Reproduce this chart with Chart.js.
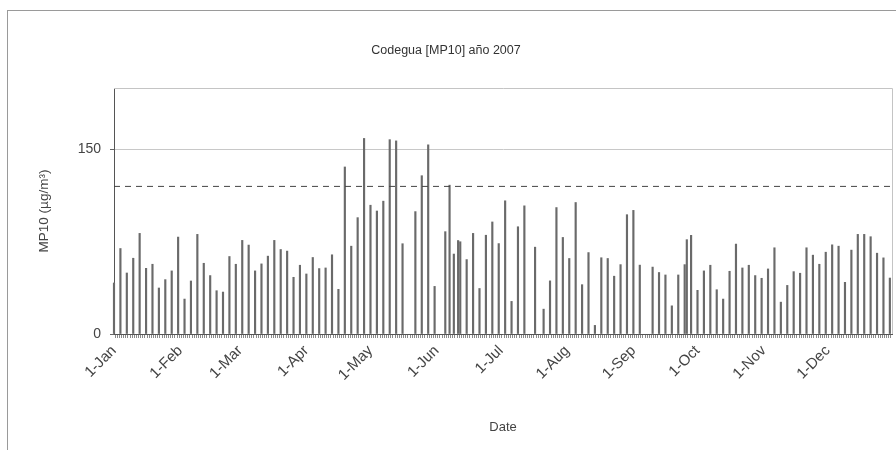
<!DOCTYPE html>
<html>
<head>
<meta charset="utf-8">
<script src="https://cdn.jsdelivr.net/npm/chart.js@4.4.1/dist/chart.umd.min.js"></script>
<style>
  html, body { margin: 0; padding: 0; background: #fff; overflow: hidden; }
  #wrap { position: relative; width: 896px; height: 450px; }
  #frame { position: absolute; left: 7px; top: 10px; width: 900px; height: 460px; border-left: 1px solid #9a9a9a; border-top: 1px solid #9a9a9a; pointer-events: none; }
  canvas { position: absolute; left: 0; top: 0; }
</style>
</head>
<body>
<div id="wrap">
  <canvas id="c" width="896" height="450"></canvas>
  <div id="frame"></div>
</div>
<script>
// ---- data (day of year 2007, 0 = 1-Jan) ----
const monthNames = ['Jan','Feb','Mar','Apr','May','Jun','Jul','Aug','Sep','Oct','Nov','Dec'];
const monthDays  = [31,28,31,30,31,30,31,31,30,31,30,31];
const sampleDays = [0,3,6,9,12,15,18,21,24,27,30,33,36,39,42,45,48,51,54,57,60,63,66,69,72,75,78,81,84,87,90,93,96,99,102,105,108,111,114,117,120,123,126,129,132,135,141,144,147,150,155,157,159,161,162,165,168,171,174,177,180,183,186,189,192,197,201,204,207,210,213,216,219,222,225,228,231,234,237,240,243,246,252,255,258,261,264,267,268,270,273,276,279,282,285,288,291,294,297,300,303,306,309,312,315,318,321,324,327,330,333,336,339,342,345,348,351,354,357,360,363];
const pm10Values = [41.5,69.5,49.6,61.6,81.8,53.4,56.7,37.4,44.2,51.3,78.8,28.4,43.1,81.0,57.5,47.5,35.2,34.1,63.0,56.7,76.1,72.3,51.3,57.0,63.3,76.1,68.7,67.4,46.1,55.9,48.8,62.2,53.2,53.7,64.4,36.3,135.8,71.4,94.6,159,104.7,100,108,158,157,73.4,99.5,128.7,153.8,38.7,83.2,121,65,76,75,60.5,81.8,37,80.3,91.1,73.5,108.3,26.5,87.2,104.2,70.6,20.2,43.2,102.8,78.5,61.4,106.9,40.1,66.2,7,62,61.4,47,56.4,97,100.5,56,54.4,50,48,22.9,48,56.4,76.7,80.2,35.5,51.3,55.9,36,28.4,51,73.1,53.7,55.9,47.5,45.3,52.9,70.1,25.9,39.5,50.7,49.4,70.1,64.1,56.7,66.5,72.5,71.4,42,68.2,81,81,79.1,65.7,61.9,45.5];
const limitValue = 120;
const yTickValues = [0, 150];

// ---- build daily category table ----
const labels = [];
monthNames.forEach((m, i) => { for (let d = 1; d <= monthDays[i]; d++) labels.push(d + '-' + m); });
const dailyValues = labels.map(() => null);
sampleDays.forEach((d, i) => { dailyValues[d] = pm10Values[i]; });
const limitLine = labels.map(() => null);
limitLine[0] = limitValue;
limitLine[labels.length - 1] = limitValue;

const frameBox = {
  id: 'frameBox',
  afterDraw(chart) {
    const {ctx, chartArea: a} = chart;
    ctx.save();
    ctx.strokeStyle = '#c4c4c4';
    ctx.lineWidth = 1;
    ctx.beginPath();
    ctx.moveTo(a.left, a.top + 0.5); ctx.lineTo(a.right + 0.5, a.top + 0.5); ctx.lineTo(a.right + 0.5, a.bottom);
    ctx.stroke();
    ctx.restore();
  }
};

const FONT = "'Liberation Sans', Arial, sans-serif";
new Chart(document.getElementById('c'), {
  data: {
    labels,
    datasets: [
      { type: 'bar', data: dailyValues, backgroundColor: '#6a6a6a', barThickness: 1.5, clip: 3, order: 2 },
      { type: 'line', data: limitLine, spanGaps: true, borderColor: '#444', borderWidth: 1, borderDash: [6, 5], pointRadius: 0, fill: false, order: 1 }
    ]
  },
  options: {
    responsive: false,
    devicePixelRatio: 1,
    animation: false,
    layout: { padding: { left: 0, right: 4, top: 0, bottom: 0 } },
    plugins: {
      legend: { display: false },
      tooltip: { enabled: false },
      title: {
        display: true,
        text: 'Codegua [MP10] año 2007',
        color: '#333',
        font: { family: FONT, size: 12.5, weight: 'normal' },
        padding: { top: 43, bottom: 30 }
      }
    },
    scales: {
      x: {
        type: 'category',
        offset: false,
        grid: { display: true, drawOnChartArea: false, drawTicks: true, tickLength: 4, tickColor: '#8a8a8a', color: '#8a8a8a' },
        border: { color: '#555', width: 1 },
        ticks: {
          autoSkip: false,
          minRotation: 45,
          maxRotation: 45,
          padding: 4,
          color: '#444',
          font: { family: FONT, size: 15 },
          callback: function (v, i) { const l = labels[i]; return l.startsWith('1-') ? l : ''; }
        },
        title: { display: true, text: 'Date', color: '#444', font: { family: FONT, size: 13 }, padding: { top: 4, bottom: 15 } },
        afterFit(s) { s.height = 116; s.paddingLeft = 0; s.paddingRight = 0; }
      },
      y: {
        min: 0,
        max: 200,
        afterBuildTicks(s) { s.ticks = yTickValues.map(v => ({ value: v })); },
        grid: { color: '#c8c8c8', tickLength: 4, tickColor: '#666' },
        border: { color: '#555', width: 1 },
        ticks: { color: '#444', padding: 9, font: { family: FONT, size: 14 } },
        title: { display: true, text: 'MP10 (µg/m³)', color: '#444', font: { family: FONT, size: 13.5 }, padding: { top: 36, bottom: 0 } },
        afterFit(s) { s.width = 114; }
      }
    }
  },
  plugins: [frameBox]
});
</script>
</body>
</html>
